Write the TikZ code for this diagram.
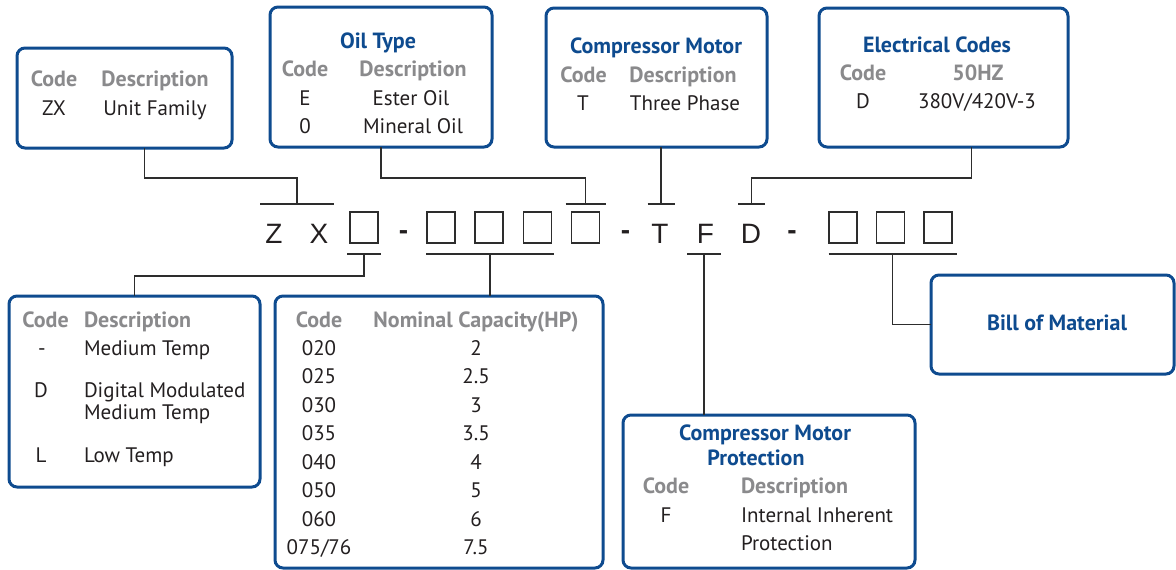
\documentclass[tikz,border=0pt]{standalone}
\usepackage{fontspec}
\setmainfont{PT Sans}
\newfontfamily\codefont{Liberation Sans}
\usepackage{xcolor}

\definecolor{emblue}{RGB}{14,75,143}
\definecolor{headgray}{RGB}{138,138,140}
\definecolor{bodyblack}{RGB}{35,31,32}
\definecolor{wiregray}{RGB}{45,45,45}

\begin{document}
\begin{tikzpicture} [
    x=1pt, y=-1pt,
    every node/.style = { inner sep=0pt, outer sep=0pt },
    infobox/.style    = { rectangle, draw=emblue, line width=3pt,
                          rounded corners=8pt, anchor=north west },
    slot/.style       = { rectangle, draw=wiregray, line width=1.5pt,
                          minimum width=28pt, minimum height=31pt },
    letter/.style     = { font=\codefont\fontsize{28}{30}\selectfont,
                          text=bodyblack, anchor=base },
    hyphen/.style     = { font=\codefont\fontsize{28}{30}\selectfont\bfseries,
                          text=bodyblack, anchor=base },
    title/.style      = { font=\fontsize{22}{26}\selectfont\bfseries,
                          text=emblue, anchor=base },
    head/.style       = { font=\fontsize{22}{26}\selectfont\bfseries,
                          text=headgray, anchor=base },
    entry/.style      = { font=\fontsize{21}{25}\selectfont,
                          text=bodyblack, anchor=base },
    wire/.style       = { draw=wiregray, line width=1.5pt },
    bar/.style        = { draw=wiregray, line width=1.8pt },
  ]
  \useasboundingbox (0,0) rectangle (1176,570);

  % the boxes
  \node [infobox, minimum width=215pt, minimum height=100pt] (zxbox)   at (17,48)   {};
  \node [infobox, minimum width=222pt, minimum height=140pt] (oilbox)  at (270,7)   {};
  \node [infobox, minimum width=221pt, minimum height=139pt] (compbox) at (546,8)   {};
  \node [infobox, minimum width=249pt, minimum height=139pt] (elecbox) at (819,8)   {};
  \node [infobox, minimum width=251pt, minimum height=191pt] (tempbox) at (9,296)   {};
  \node [infobox, minimum width=328pt, minimum height=272pt] (capbox)  at (275,296) {};
  \node [infobox, minimum width=292pt, minimum height=153pt] (protbox) at (623,415) {};
  \node [infobox, minimum width=243pt, minimum height=99pt]  (bombox)  at (931,275) {};

  % unit family
  \node [head]  (zxcodeh) at (54,86)   {Code};
  \node [head]  (zxdesch) at (155,86)  {Description};
  \node [entry] (zxcode)  at (54,115)  {ZX};
  \node [entry] (zxdesc)  at (155,115) {Unit Family};

  % oil type
  \node [title] (oiltitle) at (378,48)  {Oil Type};
  \node [head]  (oilcodeh) at (305,76)  {Code};
  \node [head]  (oildesch) at (413,76)  {Description};
  \node [entry] (oilcodee) at (305,105) {E};
  \node [entry] (oildesce) at (411,105) {Ester Oil};
  \node [entry] (oilcodem) at (305,133) {0};
  \node [entry] (oildescm) at (413,133) {Mineral Oil};

  % compressor motor
  \node [title] (comptitle) at (656,53)   {Compressor Motor};
  \node [head]  (compcodeh) at (583.5,82) {Code};
  \node [head]  (compdesch) at (683,82)   {Description};
  \node [entry] (compcode)  at (583,110)  {T};
  \node [entry] (compdesc)  at (685,110)  {Three Phase};

  % electrical codes
  \node [title] (electitle) at (937,52)  {Electrical Codes};
  \node [head]  (eleccodeh) at (863,80)  {Code};
  \node [head]  (elechzh)   at (978,80)  {50HZ};
  \node [entry] (eleccode)  at (863,108) {D};
  \node [entry] (elecvolt)  at (977,108) {380V/420V-3};

  % temperature
  \node [head]                   (tempcodeh) at (45.5,327) {Code};
  \node [head, anchor=base west] (tempdesch) at (84,327)   {Description};
  \node [entry]                  (tempcodem) at (42,355)   {-};
  \node [entry, anchor=base west](tempdescm) at (84,355)   {Medium Temp};
  \node [entry]                  (tempcoded) at (41,397)   {D};
  \node [entry, anchor=base west](tempdescd) at (84,397)   {Digital Modulated};
  \node [entry, anchor=base west](tempdescx) at (84,419)   {Medium Temp};
  \node [entry]                  (tempcodel) at (41,462)   {L};
  \node [entry, anchor=base west](tempdescl) at (84,462)   {Low Temp};

  % nominal capacity
  \node [head] (capcodeh) at (319,327) {Code};
  \node [head] (caphph)   at (476,327) {Nominal Capacity(HP)};
  \foreach \code/\hp [count=\i] in {020/2, 025/2.5, 030/3, 035/3.5,
                                    040/4, 050/5, 060/6, {075/76}/7.5} {
    \node [entry] (capcode\i) at (319,355+28.57*\i-28.57) {\code};
    \node [entry] (caphp\i)   at (476,355+28.57*\i-28.57) {\hp};
  }

  % motor protection
  \node [title]                  (prottitle)  at (765,440) {Compressor Motor};
  \node [title]                  (prottitleb) at (756,465) {Protection};
  \node [head]                   (protcodeh)  at (666,493) {Code};
  \node [head, anchor=base west] (protdesch)  at (741,493) {Description};
  \node [entry]                  (protcode)   at (666,522) {F};
  \node [entry, anchor=base west](protdesc)   at (741,522) {Internal Inherent};
  \node [entry, anchor=base west](protdescb)  at (741,550) {Protection};

  % bill of material
  \node [title] (bomtitle) at (1057,330) {Bill of Material};

  % the model code
  \node [letter] (lz) at (274,243)   {Z};
  \node [letter] (lx) at (319,243)   {X};
  \node [hyphen] (da) at (403.5,239) {-};
  \node [hyphen] (db) at (625.5,239) {-};
  \node [letter] (lt) at (660,243)   {T};
  \node [letter] (lf) at (705.5,243) {F};
  \node [letter] (ld) at (751,243)   {D};
  \node [hyphen] (dc) at (792,239)   {-};
  \foreach \n/\x in {1/364, 2/441, 3/489, 4/537.5, 5/585.5, 6/843, 7/890.5, 8/938}
    \node [slot] (s\n) at (\x,227.5) {};

  \coordinate (zxtop)  at (297,204);
  \coordinate (oiltop) at (585.5,204);
  \coordinate (ttop)   at (661,204);
  \coordinate (dtop)   at (751.5,204);
  \coordinate (s1bot)  at (364,254);
  \coordinate (capbot) at (490,254);
  \coordinate (fbot)   at (704,254);
  \coordinate (bombot) at (892.5,254);

  \begin{scope} [every path/.style=bar]
    \path ([xshift=-37pt]zxtop)  -- ([xshift=37pt]zxtop);
    \path ([xshift=-20pt]oiltop) -- ([xshift=20pt]oiltop);
    \path ([xshift=-13.5pt]ttop) -- ([xshift=13.5pt]ttop);
    \path ([xshift=-13.5pt]dtop) -- ([xshift=13.5pt]dtop);
    \path ([xshift=-17pt]s1bot)  -- ([xshift=17pt]s1bot);
    \path ([xshift=-64pt]capbot) -- ([xshift=64pt]capbot);
    \path ([xshift=-17pt]fbot)   -- ([xshift=17pt]fbot);
    \path ([xshift=-64pt]bombot) -- ([xshift=64pt]bombot);
  \end{scope}

  % connect the boxes to the code
  \begin{scope} [every path/.style=wire]
    \path ([xshift=20pt]zxbox.south)   -- ++(0,30) -| (zxtop);
    \path (oilbox.south)               -- ++(0,31) -| (oiltop);
    \path (compbox.south -| ttop)      -- (ttop);
    \path ([xshift=28pt]elecbox.south) -- ++(0,31) -| (dtop);
    \path (s1bot)  -- ++(0,22) -| (tempbox.north);
    \path (capbot) -- (capbot |- capbox.north);
    \path (fbot)   -- (fbot |- protbox.north);
    \path (bombot) |- (bombox.west);
  \end{scope}
\end{tikzpicture}
\end{document}
